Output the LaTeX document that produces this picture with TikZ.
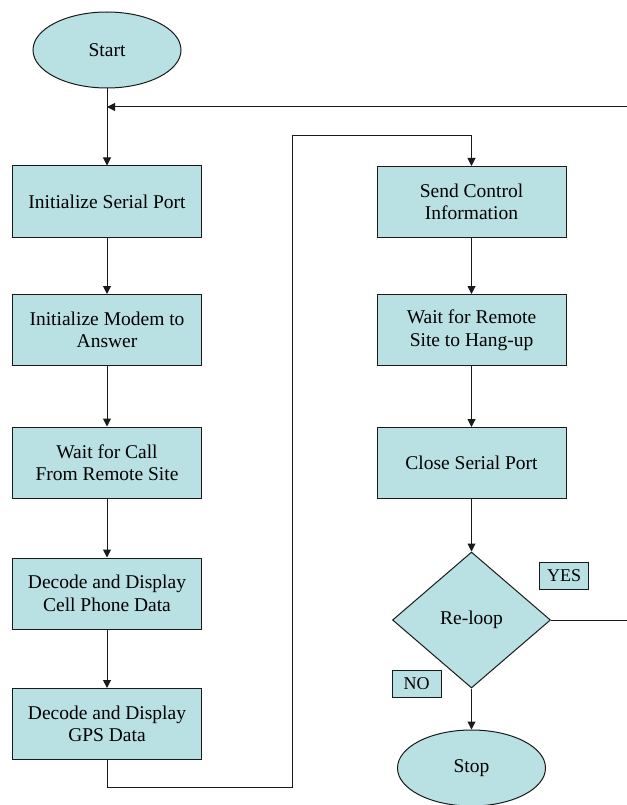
\documentclass[tikz,border=0pt]{standalone}
\usepackage{fontspec}
\setmainfont{Liberation Serif}
\newfontfamily\flowfont{Liberation Serif}
\usepackage{tikz}
\usepackage{xcolor}
\usetikzlibrary{arrows.meta, positioning, calc, shapes.geometric}
\definecolor{boxfill}{HTML}{B9E0E3}
\definecolor{darkline}{HTML}{1A1A1A}

\begin{document}
\begin{tikzpicture}[x=1pt, y=-1pt,
            procbox/.style={rectangle, draw=darkline, line width=1pt, fill=boxfill, minimum width=189, minimum height=71, inner sep=2pt, align=center, font=\flowfont\fontsize{19.5}{22.5}\selectfont},
            termnode/.style={ellipse, draw=darkline, line width=1pt, fill=boxfill, minimum width=148, minimum height=76, inner sep=0pt, font=\flowfont\fontsize{19.5}{22.5}\selectfont},
            decnode/.style={diamond, draw=darkline, line width=1pt, fill=boxfill, minimum width=158, minimum height=136, inner sep=0pt, font=\flowfont\fontsize{19.5}{22.5}\selectfont},
            tagbox/.style={rectangle, draw=darkline, line width=1pt, fill=boxfill, minimum width=49, minimum height=27, inner sep=1pt, font=\flowfont\fontsize{18}{20}\selectfont},
            flow/.style={draw=darkline, line width=1pt, -{Triangle[length=8pt, width=8pt]}}]
            \useasboundingbox (0,0) rectangle (626,805);
            % left column
            \node[termnode] (start) at (107,50) {Start};
            \node[procbox] (init) at (107,201.5) {Initialize Serial Port};
            \node[procbox] (modem) at (107,330) {Initialize Modem to\\Answer};
            \node[procbox] (wait) at (107,462.5) {Wait for Call\\From Remote Site};
            \node[procbox] (cell) at (107,593.5) {Decode and Display\\Cell Phone Data};
            \node[procbox] (gps) at (107,724) {Decode and Display\\GPS Data};
            % right column
            \node[procbox] (send) at (471.5,202) {Send Control\\Information};
            \node[procbox] (hang) at (471.5,330) {Wait for Remote\\Site to Hang-up};
            \node[procbox] (close) at (471.5,463) {Close Serial Port};
            \node[decnode] (reloop) at (471.5,620) {Re-loop};
            \node[termnode] (stop) at (471.5,768) {Stop};
            \node[tagbox] (yes) at (564,575.5) {YES};
            \node[tagbox] (no) at (416.5,683.5) {NO};
            \coordinate (join) at (107,107);
            \coordinate (lowbend) at (292,787);
            \coordinate (highbend) at (292,136);
            \foreach \a/\b in {start/init,init/modem,modem/wait,wait/cell,cell/gps,send/hang,hang/close,close/reloop,reloop/stop} {
                \draw[flow] (\a) -- (\b);
            }
            \draw[flow] (gps.south) |- (lowbend) -- (highbend) -| (send.north);
            \draw[flow] (reloop.east) -- ++(170,0) |- (join);
        \end{tikzpicture}
\end{document}
